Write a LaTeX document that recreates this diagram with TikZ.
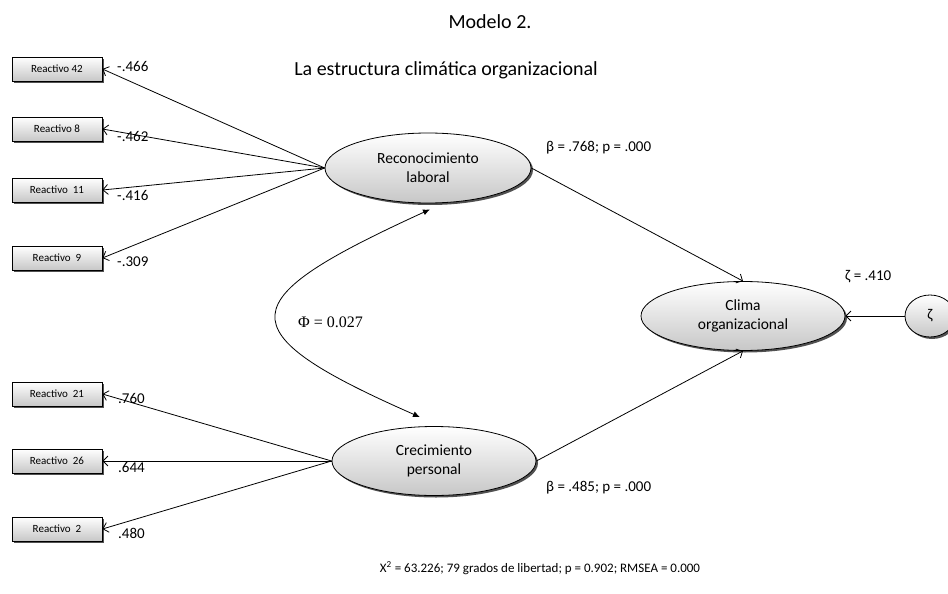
\documentclass[tikz,border=0pt]{standalone}
\usepackage{fontspec}
\setmainfont{Carlito}
\newfontfamily\timesfont{Liberation Serif}
\usetikzlibrary{arrows.meta,shapes.geometric,shadows}
\tikzset{
  sombra/.style={drop shadow={shadow xshift=2pt, shadow yshift=-2pt, fill=black!80, opacity=.85}},
  reactivo/.style={draw, rectangle, line width=0.8pt, minimum width=90pt, minimum height=24pt, inner sep=0pt,
    top color=white, bottom color=black!22, sombra, font=\fontsize{11}{13}\selectfont},
  latente/.style={draw, ellipse, line width=0.8pt, minimum width=204pt, minimum height=69pt, inner sep=0pt,
    align=center, top color=white, bottom color=black!22, sombra, font=\fontsize{15.5}{19}\selectfont},
  carga/.style={-{Straight Barb[length=5pt,width=10pt]}, line width=0.8pt},
  etiqueta/.style={anchor=west, inner sep=0pt, font=\fontsize{15}{18}\selectfont},
}
\begin{document}
\begin{tikzpicture}[x=1pt, y=-1pt]
		%%%%% START %%%%%
		\useasboundingbox[fill=white] (0, 0) rectangle (948, 594);
		
		\node[font=\fontsize{20}{24}\selectfont] (modelo) at (490, 22) {Modelo 2.};
		\node[font=\fontsize{20}{24}\selectfont] (titulo) at (446, 70) {La estructura climática organizacional};
		
		% indicadores
		\node[reactivo] (r42) at (57, 69) {Reactivo 42};
		\node[reactivo] (r8) at (57, 129) {Reactivo 8};
		\node[reactivo] (r11) at (57, 190) {Reactivo\ \ 11};
		\node[reactivo] (r9) at (57, 258) {Reactivo\ \ 9};
		\node[reactivo] (r21) at (57, 394) {Reactivo\ \ 21};
		\node[reactivo] (r26) at (57, 461) {Reactivo\ \ 26};
		\node[reactivo] (r2) at (57, 529) {Reactivo\ \ 2};
		
		% factores
		\node[latente, minimum width=206pt, minimum height=70pt] (rec) at (428, 168) {Reconocimiento\\laboral};
		\node[latente] (cre) at (434, 461) {Crecimiento\\personal};
		\node[latente] (clima) at (743, 316) {Clima\\organizacional};
		\node[draw, ellipse, line width=0.8pt, minimum width=50pt, minimum height=42pt, inner sep=0pt, top color=white, bottom color=black!22, sombra,
		      font=\fontsize{15}{18}\selectfont] (zeta) at (930, 316) {ζ};
		
		% cargas
		\draw[carga] (rec.west) -- (r42.east);
		\draw[carga] (rec.west) -- (r8.east);
		\draw[carga] (rec.west) -- (r11.east);
		\draw[carga] (rec.west) -- (r9.east);
		\draw[carga] (cre.west) -- (r21.east);
		\draw[carga] (cre.west) -- (r26.east);
		\draw[carga] (cre.west) -- (r2.east);
		
		\node[etiqueta] (c42) at (117, 66) {-.466};
		\node[etiqueta] (c8) at (117, 136) {-.462};
		\node[etiqueta] (c11) at (117, 195) {-.416};
		\node[etiqueta] (c9) at (117, 262) {-.309};
		\node[etiqueta] (c21) at (118, 398) {.760};
		\node[etiqueta] (c26) at (118, 467) {.644};
		\node[etiqueta] (c2) at (118, 533) {.480};
		
		% efectos estructurales
		\draw[carga] (rec.east) -- (clima.north);
		\draw[carga] (cre.east) -- (clima.south);
		\draw[carga] (zeta.west) -- (clima.east);
		
		\node[etiqueta] (beta1) at (546, 148) {β = .768; p = .000};
		\node[etiqueta] (beta2) at (546, 488) {β = .485; p = .000};
		\node[etiqueta] (perturb) at (845, 277) {ζ = .410};
		
		% covarianza
		\draw[{Latex[length=7pt,width=6pt]}-{Latex[length=7pt,width=6pt]}, line width=0.8pt]
		  ([xshift=2pt, yshift=-6pt]rec.south) .. controls (232, 300) and (222, 330) .. ([xshift=-14pt, yshift=9pt]cre.north);
		\node[etiqueta, font=\timesfont\fontsize{16}{19}\selectfont] (phi) at (298, 322) {Φ = 0.027};
		
		\node[font=\fontsize{13}{16}\selectfont] (ajuste) at (540, 568)
		  {X\textsuperscript{2} = 63.226; 79 grados de libertad; p = 0.902; RMSEA = 0.000};
		%%%%% END %%%%%
\end{tikzpicture}
\end{document}
